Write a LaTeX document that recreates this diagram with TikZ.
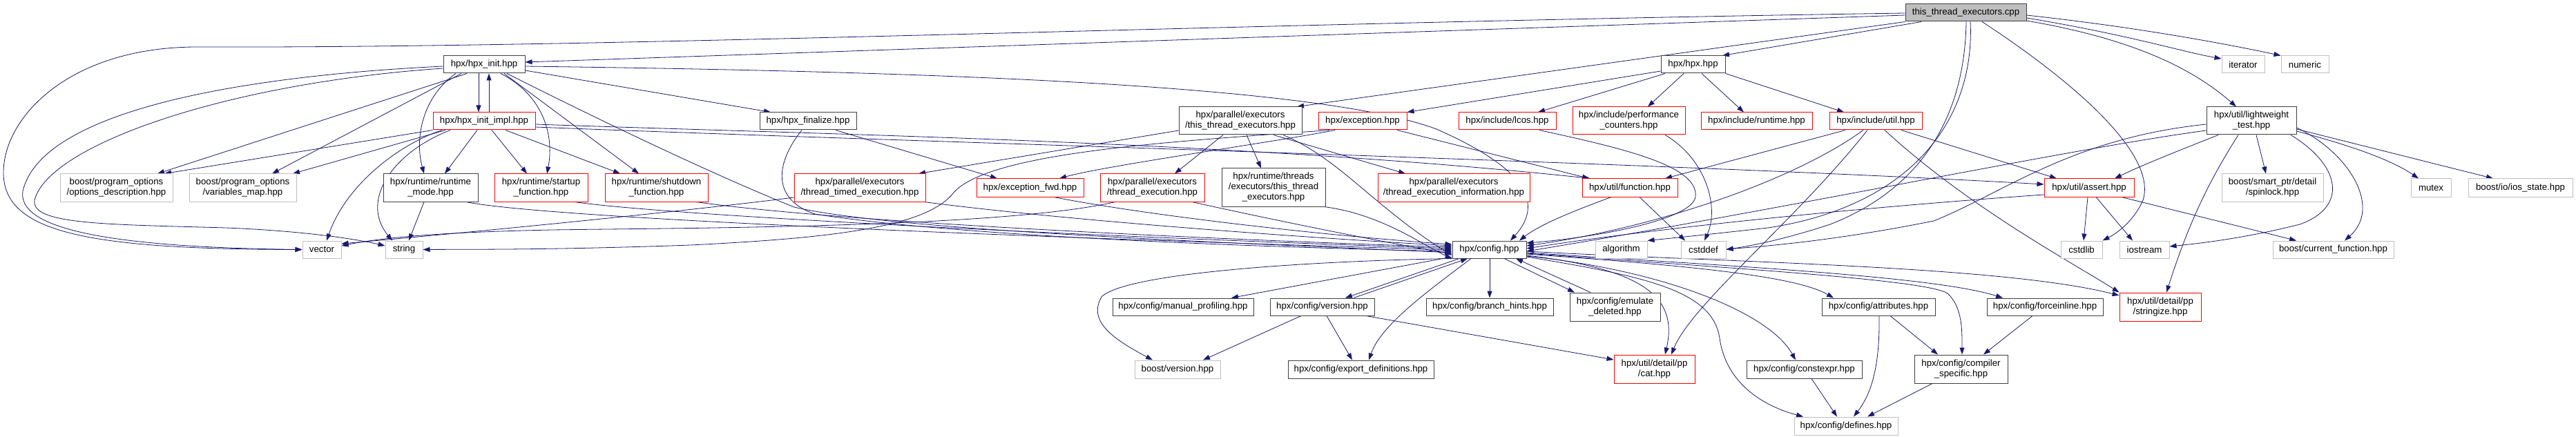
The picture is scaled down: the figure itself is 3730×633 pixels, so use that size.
\documentclass[tikz,border=0pt]{standalone}
\usepackage{fontspec}
\setmainfont{Liberation Sans}
\usetikzlibrary{arrows.meta}
\definecolor{edgec}{HTML}{191970}
\definecolor{grayb}{HTML}{BFBFBF}
\definecolor{redb}{HTML}{FF0000}
\definecolor{blackb}{HTML}{404040}
\pgfdeclarelayer{bg}
\pgfsetlayers{bg,main}
\tikzset{
 box/.style={draw=blackb, line width=1bp, fill=white, inner sep=0pt, font=\fontsize{13.3}{15}\selectfont, align=center, text=black},
 rbox/.style={box, draw=redb, line width=1bp},
 gbox/.style={box, draw=grayb, line width=1bp},
 rootbox/.style={box, fill=grayb},
 edg/.style={draw=edgec, line width=0.8bp, -{Triangle[length=10bp,width=7bp]}},
}
\newcommand\mknode[7]{%
 \pgfmathsetmacro\cx{(#2+#3)/2}\pgfmathsetmacro\cy{(#4+#5)/2}%
 \pgfmathsetmacro\ww{#3-#2}\pgfmathsetmacro\hh{#5-#4}%
 \node[#6, minimum width=\ww bp, minimum height=\hh bp] (#1) at (\cx,\cy) {#7};}
\begin{document}
\begin{tikzpicture}[x=1bp,y=-1bp]
\useasboundingbox (0,0) rectangle (3730,633);
\mknode{root}{2759}{2934}{6}{31}{rootbox}{this\_thread\_executors.cpp}
\mknode{init}{642}{760}{81}{106}{box}{hpx/hpx\_init.hpp}
\mknode{impl}{627}{775}{163}{188}{rbox}{hpx/hpx\_init\_impl.hpp}
\mknode{fin}{1100}{1240}{163}{188}{box}{hpx/hpx\_finalize.hpp}
\mknode{optd}{87}{250}{252}{292}{gbox}{boost/program\_options\\/options\_description.hpp}
\mknode{varm}{274}{429}{252}{292}{gbox}{boost/program\_options\\/variables\_map.hpp}
\mknode{rmode}{555}{692}{252}{292}{box}{hpx/runtime/runtime\\\_mode.hpp}
\mknode{startf}{716}{851}{252}{292}{rbox}{hpx/runtime/startup\\\_function.hpp}
\mknode{shutf}{876}{1025}{252}{292}{rbox}{hpx/runtime/shutdown\\\_function.hpp}
\mknode{tte}{1150}{1340}{252}{292}{rbox}{hpx/parallel/executors\\/thread\_timed\_execution.hpp}
\mknode{pte}{1707}{1885}{155}{195}{box}{hpx/parallel/executors\\/this\_thread\_executors.hpp}
\mknode{efwd}{1414}{1569}{259}{285}{rbox}{hpx/exception\_fwd.hpp}
\mknode{te}{1593}{1744}{252}{292}{rbox}{hpx/parallel/executors\\/thread\_execution.hpp}
\mknode{rte}{1769}{1919}{244}{299}{box}{hpx/runtime/threads\\/executors/this\_thread\\\_executors.hpp}
\mknode{exc}{1909}{2037}{163}{188}{rbox}{hpx/exception.hpp}
\mknode{lcos}{2112}{2253}{163}{188}{rbox}{hpx/include/lcos.hpp}
\mknode{perf}{2277}{2440}{155}{195}{rbox}{hpx/include/performance\\\_counters.hpp}
\mknode{hpx}{2405}{2498}{81}{106}{box}{hpx/hpx.hpp}
\mknode{tei}{1995}{2215}{252}{292}{rbox}{hpx/parallel/executors\\/thread\_execution\_information.hpp}
\mknode{func}{2291}{2429}{259}{285}{rbox}{hpx/util/function.hpp}
\mknode{rt}{2463}{2624}{163}{188}{rbox}{hpx/include/runtime.hpp}
\mknode{util}{2649}{2783}{163}{188}{rbox}{hpx/include/util.hpp}
\mknode{assert}{2960}{3090}{259}{285}{rbox}{hpx/util/assert.hpp}
\mknode{iter}{3217}{3279}{81}{106}{gbox}{iterator}
\mknode{numeric}{3303}{3372}{81}{106}{gbox}{numeric}
\mknode{lwt}{3195}{3325}{155}{195}{box}{hpx/util/lightweight\\\_test.hpp}
\mknode{spin}{3217}{3364}{252}{292}{gbox}{boost/smart\_ptr/detail\\/spinlock.hpp}
\mknode{mutex}{3491}{3549}{259}{285}{gbox}{mutex}
\mknode{ios}{3574}{3725}{259}{285}{gbox}{boost/io/ios\_state.hpp}
\mknode{vector}{438}{494}{349}{374}{gbox}{vector}
\mknode{string}{558}{612}{349}{374}{gbox}{string}
\mknode{mprof}{1611}{1815}{432}{457}{box}{hpx/config/manual\_profiling.hpp}
\mknode{bver}{1643}{1767}{522}{548}{gbox}{boost/version.hpp}
\mknode{cver}{1839}{1990}{432}{457}{box}{hpx/config/version.hpp}
\mknode{config}{2103}{2210}{349}{374}{box}{hpx/config.hpp}
\mknode{algo}{2310}{2385}{349}{374}{gbox}{algorithm}
\mknode{cstddef}{2434}{2499}{349}{374}{gbox}{cstddef}
\mknode{bh}{2065}{2249}{432}{457}{box}{hpx/config/branch\_hints.hpp}
\mknode{emu}{2273}{2404}{424}{465}{box}{hpx/config/emulate\\\_deleted.hpp}
\mknode{expd}{1865}{2076}{522}{548}{box}{hpx/config/export\_definitions.hpp}
\mknode{cat}{2337}{2454}{514}{555}{rbox}{hpx/util/detail/pp\\/cat.hpp}
\mknode{cstdlib}{2984}{3044}{349}{374}{gbox}{cstdlib}
\mknode{iostream}{3069}{3141}{349}{374}{gbox}{iostream}
\mknode{attr}{2638}{2802}{432}{457}{box}{hpx/config/attributes.hpp}
\mknode{force}{2877}{3045}{432}{457}{box}{hpx/config/forceinline.hpp}
\mknode{str}{3069}{3187}{424}{465}{rbox}{hpx/util/detail/pp\\/stringize.hpp}
\mknode{cexpr}{2529}{2696}{522}{548}{box}{hpx/config/constexpr.hpp}
\mknode{comp}{2772}{2907}{514}{555}{box}{hpx/config/compiler\\\_specific.hpp}
\mknode{defs}{2598}{2748}{604}{630}{gbox}{hpx/config/defines.hpp}
\mknode{curf}{3291}{3466}{349}{374}{gbox}{boost/current\_function.hpp}
\begin{pgfonlayer}{bg}
% root
\draw[edg] (root.west |- 0,22) -- (init.east |- 0,90);
\draw[edg] (root.west |- 0,19) .. controls (1800,33) and (900,70) .. (286,68) .. controls (100,68) and (5,170) .. (5,250) .. controls (5,335) and (120,361) .. (vector.west);
\draw[edg] (root.south -| 2782,0) -- (hpx.north -| 2494,0);
\draw[edg] (root.south west) -- (pte.north -| 1878,0);
\draw[edg] (root.east |- 0,26) .. controls (3080,50) and (3160,75) .. (iter.west |- 0,85);
\draw[edg] (root.east |- 0,22) .. controls (3100,40) and (3230,65) .. (numeric.north west);
\draw[edg] (root.east |- 0,30) .. controls (3080,55) and (3170,95) .. (lwt.north -| 3238,0);
\draw[edg] (root.south -| 2870,0) .. controls (2990,110) and (3125,220) .. (3103,290) .. controls (3090,320) and (3065,338) .. (cstdlib.north east);
\draw[edg] (root.south -| 2847,0) .. controls (2845,160) and (2790,270) .. (2650,325) .. controls (2580,348) and (2530,357) .. (cstddef.east);
\draw[edg] (root.south -| 2853,0) .. controls (2860,180) and (2760,300) .. (2560,330) .. controls (2470,340) and (2420,345) .. (algo.north east);
% init
\draw[edg] (init.south -| 693,0) -- (impl.north -| 693,0);
\draw[edg] (impl.north -| 708,0) -- (init.south -| 708,0);
\draw[edg] (init.east |- 0,102) -- (fin.north -| 1116,0);
\draw[edg] (init.south -| 676,0) -- (optd.north -| 228,0);
\draw[edg] (init.south -| 668,0) -- (varm.north -| 394,0);
\draw[edg] (init.south -| 660,0) .. controls (612,140) and (600,200) .. (rmode.north -| 614,0);
\draw[edg] (init.south -| 725,0) .. controls (790,140) and (802,200) .. (startf.north -| 792,0);
\draw[edg] (init.south -| 730,0) -- (shutf.north -| 925,0);
\draw[edg] (init.west |- 0,96) .. controls (350,110) and (60,160) .. (33,277) .. controls (25,330) and (150,358) .. (vector.west);
\draw[edg] (init.west |- 0,99) .. controls (330,120) and (70,210) .. (50,290) .. controls (45,325) and (150,325) .. (327,330) .. controls (430,334) and (510,345) .. (string.west |- 0,356);
\draw[edg] (init.east |- 0,96) .. controls (1300,103) and (1900,120) .. (2080,187) .. controls (2200,240) and (2240,290) .. (config.north -| 2187,0);
\draw[edg] (init.south -| 734,0) .. controls (900,190) and (1050,260) .. (1150,300) .. controls (1300,335) and (1800,352) .. (config.west |- 0,366);
% impl
\draw[edg] (impl.south west) -- (optd.north -| 238,0);
\draw[edg] (impl.south -| 645,0) -- (varm.north -| 424,0);
\draw[edg] (impl.south -| 691,0) -- (rmode.north -| 644,0);
\draw[edg] (impl.south -| 712,0) -- (startf.north -| 763,0);
\draw[edg] (impl.south -| 732,0) -- (shutf.north -| 898,0);
\draw[edg] (impl.south -| 640,0) .. controls (575,210) and (500,270) .. (vector.north -| 473,0);
\draw[edg] (impl.south -| 652,0) .. controls (570,220) and (520,290) .. (string.north -| 568,0);
\draw[edg] (impl.east |- 0,180) .. controls (1200,195) and (1800,205) .. (func.north -| 2303,0);
\draw[edg] (impl.east |- 0,184) .. controls (1300,205) and (2400,235) .. (assert.west |- 0,267);
% fin
\draw[edg] (fin.south -| 1210,0) -- (efwd.north -| 1444,0);
\draw[edg] (fin.south -| 1161,0) .. controls (1120,240) and (1120,290) .. (1180,310) .. controls (1400,345) and (1900,360) .. (config.west |- 0,364);
% rmode, startf, shutf
\draw[edg] (rmode.south -| 614,0) -- (string.north -| 592,0);
\draw[edg] (rmode.south -| 675,0) .. controls (760,310) and (1200,335) .. (config.west |- 0,362);
\draw[edg] (startf.south -| 832,0) .. controls (950,310) and (1500,340) .. (config.west |- 0,360);
\draw[edg] (shutf.south -| 1008,0) .. controls (1200,320) and (1700,345) .. (config.west |- 0,358);
% tte
\draw[edg] (tte.west |- 0,286) .. controls (1000,305) and (700,335) .. (vector.east |- 0,353);
\draw[edg] (tte.south -| 1338,0) .. controls (1550,320) and (1900,345) .. (config.west |- 0,356);
% pte
\draw[edg] (pte.west |- 0,189) -- (tte.north -| 1330,0);
\draw[edg] (pte.south -| 1771,0) -- (te.north -| 1701,0);
\draw[edg] (pte.south -| 1805,0) -- (rte.north -| 1826,0);
\draw[edg] (pte.south -| 1844,0) -- (tei.north -| 2035,0);
\draw[edg] (pte.south -| 1858,0) .. controls (1940,230) and (1990,300) .. (config.west |- 0,370);
% efwd, te, rte
\draw[edg] (efwd.south -| 1526,0) .. controls (1650,310) and (1900,340) .. (config.west |- 0,354);
\draw[edg] (te.south -| 1615,0) .. controls (1450,330) and (1000,330) .. (800,333) .. controls (650,336) and (560,343) .. (vector.east |- 0,356);
\draw[edg] (te.south -| 1726,0) .. controls (1850,320) and (2000,350) .. (config.west |- 0,368);
\draw[edg] (rte.south -| 1917,0) .. controls (2000,310) and (2060,355) .. (config.south west);
% exc
\draw[edg] (exc.south -| 1933,0) .. controls (1850,205) and (1600,240) .. (efwd.north -| 1534,0);
\draw[edg] (exc.south -| 1925,0) .. controls (1700,205) and (1430,220) .. (1380,280) .. controls (1340,330) and (1200,345) .. (1000,355) .. controls (800,362) and (700,361) .. (string.east);
\draw[edg] (exc.south -| 2023,0) -- (func.north -| 2301,0);
% hpx
\draw[edg] (hpx.west |- 0,103) -- (exc.north east);
\draw[edg] (hpx.south -| 2411,0) -- (lcos.north -| 2227,0);
\draw[edg] (hpx.south -| 2438,0) -- (perf.north -| 2386,0);
\draw[edg] (hpx.south -| 2464,0) -- (rt.north -| 2525,0);
\draw[edg] (hpx.south east) -- (util.north -| 2670,0);
% lcos, perf
\draw[edg] (lcos.south -| 2229,0) .. controls (2350,215) and (2460,240) .. (2455,285) .. controls (2450,320) and (2300,345) .. (config.east |- 0,352);
\draw[edg] (perf.south -| 2411,0) .. controls (2470,230) and (2490,300) .. (cstddef.north -| 2468,0);
% util
\draw[edg] (util.south -| 2672,0) -- (func.north -| 2411,0);
\draw[edg] (util.south -| 2698,0) .. controls (2600,260) and (2400,330) .. (config.east |- 0,356);
\draw[edg] (util.south -| 2704,0) .. controls (2600,320) and (2450,440) .. (cat.north -| 2420,0);
\draw[edg] (util.south -| 2729,0) .. controls (2850,300) and (3000,380) .. (str.north west);
\draw[edg] (util.south -| 2753,0) -- (assert.north -| 2978,0);
% func
\draw[edg] (func.south -| 2333,0) .. controls (2280,305) and (2230,325) .. (config.north -| 2200,0);
\draw[edg] (func.south -| 2374,0) -- (cstddef.north -| 2440,0);
% assert
\draw[edg] (assert.west |- 0,282) .. controls (2700,300) and (2400,330) .. (config.east |- 0,360);
\draw[edg] (assert.south -| 3023,0) -- (cstdlib.north -| 3017,0);
\draw[edg] (assert.south -| 3035,0) -- (iostream.north -| 3088,0);
\draw[edg] (assert.south -| 3072,0) -- (curf.north -| 3325,0);
% lwt
\draw[edg] (lwt.south -| 3212,0) .. controls (3150,220) and (3100,240) .. (assert.north -| 3062,0);
\draw[edg] (lwt.west |- 0,189) .. controls (3000,215) and (2600,300) .. (config.east |- 0,364);
\draw[edg] (lwt.west |- 0,180) .. controls (3000,200) and (2900,280) .. (2800,320) .. controls (2650,350) and (2550,357) .. (cstddef.east |- 0,361);
\draw[edg] (lwt.south -| 3241,0) .. controls (3200,260) and (3170,320) .. (str.north -| 3137,0);
\draw[edg] (lwt.south -| 3267,0) -- (spin.north -| 3281,0);
\draw[edg] (lwt.south -| 3317,0) .. controls (3390,240) and (3400,300) .. (3330,325) .. controls (3250,345) and (3190,352) .. (iostream.east |- 0,357);
\draw[edg] (lwt.east |- 0,185) .. controls (3400,220) and (3450,300) .. (curf.north -| 3395,0);
\draw[edg] (lwt.east |- 0,190) .. controls (3400,210) and (3460,230) .. (mutex.north -| 3502,0);
\draw[edg] (lwt.east |- 0,187) -- (ios.north -| 3610,0);
% config
\draw[edg] (config.west |- 0,372) -- (mprof.north -| 1783,0);
\draw[edg] (config.south west) .. controls (1900,378) and (1630,395) .. (1595,430) .. controls (1575,465) and (1610,490) .. (bver.north -| 1669,0);
\draw[edg] (config.south -| 2113,0) -- (cver.north -| 1948,0);
\draw[edg] (cver.north -| 1960,0) -- (config.south -| 2125,0);
\draw[edg] (config.south -| 2130,0) .. controls (2070,420) and (2000,470) .. (expd.north -| 1982,0);
\draw[edg] (config.south -| 2157,0) -- (bh.north -| 2157,0);
\draw[edg] (config.south -| 2178,0) -- (emu.north -| 2280,0);
\draw[edg] (emu.north -| 2303,0) -- (config.south -| 2195,0);
\draw[edg] (config.east |- 0,370) .. controls (2380,390) and (2430,430) .. (cat.north -| 2411,0);
\draw[edg] (config.east |- 0,368) .. controls (2450,385) and (2600,400) .. (attr.north -| 2655,0);
\draw[edg] (config.east |- 0,366) .. controls (2500,385) and (2800,400) .. (force.north -| 2900,0);
\draw[edg] (config.east |- 0,367) .. controls (2500,388) and (2790,405) .. (2820,425) .. controls (2842,445) and (2841,480) .. (comp.north -| 2841,0);
\draw[edg] (config.east |- 0,364) .. controls (2500,380) and (2900,385) .. (str.west |- 0,428);
\draw[edg] (config.east |- 0,371) .. controls (2400,390) and (2560,450) .. (cexpr.north -| 2600,0);
\draw[edg] (config.east |- 0,372) .. controls (2380,400) and (2480,420) .. (2490,490) .. controls (2500,560) and (2560,590) .. (defs.north -| 2611,0);
% cver
\draw[edg] (cver.south -| 1884,0) -- (bver.north -| 1742,0);
\draw[edg] (cver.south -| 1921,0) -- (expd.north -| 1958,0);
\draw[edg] (cver.south -| 1978,0) -- (cat.west |- 0,521);
% attributes etc.
\draw[edg] (attr.south -| 2737,0) -- (comp.north -| 2806,0);
\draw[edg] (attr.south -| 2721,0) .. controls (2722,530) and (2710,570) .. (defs.north -| 2684,0);
\draw[edg] (force.south -| 2943,0) -- (comp.north -| 2872,0);
\draw[edg] (cexpr.south -| 2623,0) -- (defs.north -| 2660,0);
\draw[edg] (comp.south -| 2798,0) -- (defs.north -| 2704,0);
\end{pgfonlayer}
\end{tikzpicture}
\end{document}
